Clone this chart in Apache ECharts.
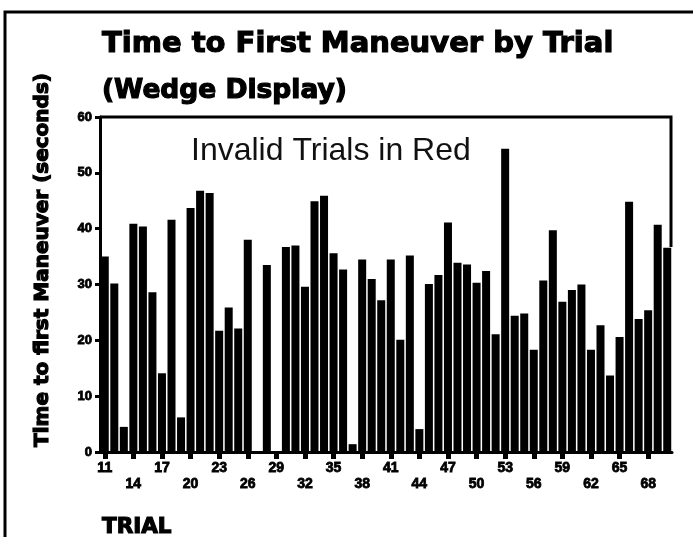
<!DOCTYPE html>
<html>
<head>
<meta charset="utf-8">
<script src="https://cdn.jsdelivr.net/npm/echarts@6/dist/echarts.min.js"></script>
<style>
  html, body { margin: 0; padding: 0; background: #fff; }
  #chart { width: 693px; height: 537px; }
</style>
</head>
<body>
<div id="chart"></div>
<script>
  // trial numbers on the x axis
  const trials = [
    '11', '12', '13', '14', '15', '16', '17', '18', '19', '20',
    '21', '22', '23', '24', '25', '26', '27', '28', '29', '30',
    '31', '32', '33', '34', '35', '36', '37', '38', '39', '40',
    '41', '42', '43', '44', '45', '46', '47', '48', '49', '50',
    '51', '52', '53', '54', '55', '56', '57', '58', '59', '60',
    '61', '62', '63', '64', '65', '66', '67', '68', '69', '70'
  ];
  // seconds to first maneuver, one per trial
  const times = [
    35.0, 30.2, 4.5, 40.9, 40.4, 28.6, 14.1, 41.6, 6.2, 43.7,
    46.8, 46.4, 21.7, 25.9, 22.1, 38.0, 0, 33.5, 0, 36.7,
    37.0, 29.6, 44.9, 45.9, 35.6, 32.7, 1.4, 34.5, 31.0, 27.2,
    34.5, 20.1, 35.2, 4.1, 30.1, 31.7, 41.1, 33.9, 33.6, 30.3,
    32.4, 21.1, 54.3, 24.4, 24.8, 18.3, 30.7, 39.7, 26.9, 29.0,
    30.0, 18.3, 22.7, 13.7, 20.6, 44.8, 23.8, 25.4, 40.7, 36.6
  ];
  const yTicks = [0, 10, 20, 30, 40, 50, 60];

  const chart = echarts.init(document.getElementById('chart'), null, { renderer: 'canvas' });
  const bold = 'Liberation Sans';
  // the scan's lettering is very heavy, a thin outline thickens the glyphs
  const heavy = { textBorderColor: '#000', textBorderWidth: 1.2 };

  const option = {
    backgroundColor: '#fff',
    animation: false,
    title: [
      {
        text: 'Time to First Maneuver by Trial',
        left: 97,
        top: 22,
        textStyle: Object.assign({ fontFamily: 'DejaVu Sans', fontWeight: 'bold', fontSize: 29, color: '#000', lineHeight: 34 }, heavy)
      },
      {
        text: '(Wedge Display)',
        left: 97,
        top: 70,
        textStyle: Object.assign({ fontFamily: 'DejaVu Sans', fontWeight: 'bold', fontSize: 26.5, color: '#000', lineHeight: 32 }, heavy)
      },
      {
        text: 'Invalid Trials in Red',
        left: 186,
        top: 128,
        textStyle: { fontFamily: 'Liberation Sans', fontWeight: 'normal', fontSize: 32, color: '#111', lineHeight: 36 }
      },
      {
        text: 'TRIAL',
        left: 97,
        top: 509,
        textStyle: Object.assign({ fontFamily: 'DejaVu Sans', fontWeight: 'bold', fontSize: 21.5, color: '#000', lineHeight: 26 }, heavy)
      }
    ],
    grid: { left: 100, right: 21, top: 117, bottom: 85, containLabel: false },
    xAxis: {
      type: 'category',
      data: trials,
      axisLine: { lineStyle: { color: '#000', width: 3 } },
      axisTick: { show: true, interval: 2, alignWithLabel: true, length: 7, lineStyle: { color: '#000', width: 5 } },
      axisLabel: Object.assign({
        interval: 2,
        margin: 8,
        color: '#000',
        fontFamily: bold,
        fontWeight: 'bold',
        fontSize: 14,
        lineHeight: 16,
        formatter: function (value, index) {
          return index % 6 === 3 ? '\n' + value : value;
        }
      }, { textBorderColor: '#000', textBorderWidth: 0.8 }),
      splitLine: { show: false }
    },
    yAxis: {
      type: 'value',
      min: yTicks[0],
      max: yTicks[yTicks.length - 1],
      interval: 10,
      axisLine: { show: true, lineStyle: { color: '#000', width: 3 } },
      axisTick: { show: true, length: 5, lineStyle: { color: '#000', width: 3 } },
      axisLabel: { margin: 8, color: '#000', fontFamily: bold, fontWeight: 'bold', fontSize: 13, textBorderColor: '#000', textBorderWidth: 0.8 },
      splitLine: { show: false }
    },
    series: [
      {
        type: 'bar',
        data: times,
        barCategoryGap: '16%',
        itemStyle: { color: '#000' }
      }
    ],
    graphic: [
      {
        type: 'polyline',
        shape: { points: [[5, 537], [5, 12], [693, 12]] },
        style: { stroke: '#000', lineWidth: 3, fill: null }
      },
      {
        type: 'polyline',
        shape: { points: [[100, 117], [671, 117], [671, 247]] },
        style: { stroke: '#000', lineWidth: 3, fill: null }
      },
      {
        type: 'text',
        x: 43,
        y: 260,
        rotation: Math.PI / 2,
        style: {
          text: 'Time to first Maneuver (seconds)',
          font: 'bold 20px "DejaVu Sans"',
          fill: '#000',
          stroke: '#000',
          lineWidth: 1.2,
          textAlign: 'center',
          textVerticalAlign: 'middle',
          align: 'center',
          verticalAlign: 'middle'
        }
      }
    ]
  };

  chart.setOption(option);
</script>
</body>
</html>
